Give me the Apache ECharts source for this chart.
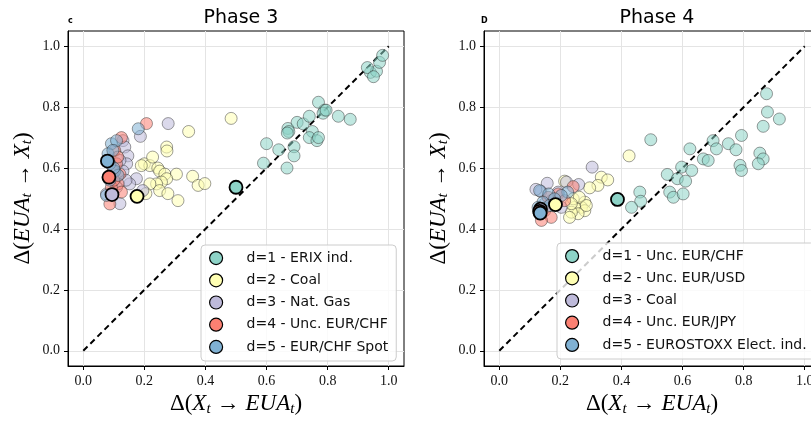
<!DOCTYPE html>
<html><head><meta charset="utf-8">
<script src="https://cdn.jsdelivr.net/npm/echarts@6/dist/echarts.min.js"></script>
<style>html,body{margin:0;padding:0;background:#fff}#c{width:811px;height:422px}</style>
</head><body><div id="c"></div>
<script>
// ---------- data ----------
const tickValues = [0, 0.2, 0.4, 0.6, 0.8, 1.0];
const colors = ['#8dd3c7', '#ffffb3', '#bebada', '#fb8072', '#80b1d3'];
const diagonal = [[0, 0], [1, 1]];

const p3Names = ['d=1 - ERIX ind.', 'd=2 - Coal', 'd=3 - Nat. Gas', 'd=4 - Unc. EUR/CHF', 'd=5 - EUR/CHF Spot'];
const p3_s1 = [[0.67,0.73],[0.673,0.72],[0.668,0.715],[0.70,0.75],[0.72,0.745],[0.74,0.77],[0.77,0.816],[0.79,0.79],[0.785,0.78],[0.795,0.79],[0.835,0.77],[0.874,0.76],[0.75,0.72],[0.74,0.70],[0.765,0.69],[0.77,0.70],[0.60,0.68],[0.64,0.66],[0.69,0.67],[0.69,0.64],[0.59,0.616],[0.667,0.60],[0.94,0.914],[0.96,0.918],[0.97,0.947],[0.98,0.97],[0.93,0.93],[0.95,0.90]];
const p3_s2 = [[0.484,0.763],[0.345,0.72],[0.273,0.669],[0.274,0.656],[0.20,0.614],[0.218,0.608],[0.227,0.636],[0.244,0.60],[0.25,0.59],[0.267,0.58],[0.305,0.58],[0.273,0.565],[0.256,0.554],[0.24,0.548],[0.218,0.548],[0.25,0.526],[0.277,0.516],[0.31,0.493],[0.358,0.573],[0.376,0.543],[0.398,0.549],[0.205,0.516],[0.19,0.608]];
const p3_s3 = [[0.278,0.746],[0.187,0.704],[0.13,0.69],[0.136,0.669],[0.146,0.64],[0.142,0.614],[0.174,0.565],[0.195,0.526],[0.12,0.483],[0.076,0.515],[0.13,0.59],[0.12,0.625],[0.109,0.537],[0.152,0.548],[0.14,0.56]];
const p3_s4 = [[0.207,0.746],[0.125,0.70],[0.087,0.482],[0.103,0.658],[0.109,0.614],[0.12,0.58],[0.114,0.548],[0.125,0.521],[0.092,0.537],[0.098,0.59],[0.113,0.636],[0.1,0.56]];
const p3_s5 = [[0.18,0.729],[0.092,0.68],[0.081,0.647],[0.109,0.69],[0.103,0.59],[0.087,0.56],[0.076,0.51],[0.114,0.576],[0.087,0.614],[0.097,0.658],[0.1,0.6]];
const p3_hl = [[0.50,0.537],[0.176,0.507],[0.094,0.513],[0.084,0.57],[0.079,0.623]];

const p4Names = ['d=1 - Unc. EUR/CHF', 'd=2 - Unc. EUR/USD', 'd=3 - Coal', 'd=4 - Unc. EUR/JPY', 'd=5 - EUROSTOXX Elect. ind.'];
const p4_s1 = [[0.875,0.844],[0.878,0.784],[0.917,0.761],[0.864,0.737],[0.793,0.707],[0.75,0.68],[0.775,0.66],[0.70,0.69],[0.711,0.663],[0.624,0.663],[0.668,0.63],[0.684,0.625],[0.853,0.649],[0.864,0.63],[0.848,0.614],[0.788,0.609],[0.793,0.592],[0.597,0.603],[0.63,0.592],[0.55,0.579],[0.583,0.565],[0.61,0.557],[0.558,0.521],[0.57,0.504],[0.602,0.515],[0.496,0.693],[0.46,0.521],[0.463,0.491],[0.433,0.471]];
const p4_s2 = [[0.425,0.64],[0.334,0.57],[0.355,0.561],[0.323,0.543],[0.296,0.535],[0.214,0.557],[0.28,0.488],[0.269,0.471],[0.247,0.471],[0.28,0.46],[0.258,0.45],[0.236,0.455],[0.242,0.499],[0.262,0.504],[0.23,0.438],[0.285,0.477],[0.236,0.483]];
const p4_s3 = [[0.304,0.603],[0.157,0.55],[0.26,0.546],[0.22,0.554],[0.136,0.523],[0.193,0.521],[0.17,0.493],[0.149,0.483],[0.203,0.471],[0.12,0.53]];
const p4_s4 = [[0.242,0.539],[0.193,0.515],[0.16,0.504],[0.149,0.46],[0.17,0.438],[0.214,0.493],[0.138,0.428]];
const p4_s5 = [[0.132,0.526],[0.162,0.515],[0.224,0.521],[0.203,0.51],[0.181,0.499],[0.143,0.488],[0.165,0.477],[0.127,0.471]];
const p4_hl = [[0.387,0.497],[0.184,0.48],[0.135,0.465],[0.132,0.458],[0.134,0.452]];

// ---------- build ----------
const serif = 'Liberation Serif';
const sans = 'DejaVu Sans';
function axisName(a, b) {
  return '{d|Δ(}{i|' + a + '}{s|t}{a|→}{i|' + b + '}{s|t}{d|)}';
}
const nameRich = {
  d: {fontFamily: serif, fontSize: 23, color: '#000'},
  a: {fontFamily: serif, fontSize: 23, color: '#000', padding: [0, 6, 0, 6]},
  i: {fontFamily: serif, fontSize: 23, fontStyle: 'italic', color: '#000'},
  s: {fontFamily: serif, fontSize: 15, fontStyle: 'italic', color: '#000', padding: [10, 0, 0, 0]}
};
function xAxis(gi) {
  return {
    gridIndex: gi, type: 'value', min: -0.05, max: 1.05,
    axisLine: {onZero: false, lineStyle: {color: '#000', width: 1}},
    axisTick: {customValues: tickValues, length: 4, lineStyle: {color: '#000'}},
    axisLabel: {customValues: tickValues, formatter: v => v.toFixed(1), fontFamily: serif, fontSize: 14, color: '#111', margin: 8},
    splitLine: {lineStyle: {color: '#e4e4e4'}},
    name: axisName('X', 'EUA'), nameLocation: 'middle', nameGap: 25,
    nameTextStyle: {rich: nameRich}
  };
}
function yAxis(gi) {
  return {
    gridIndex: gi, type: 'value', min: -0.05, max: 1.05,
    axisLine: {onZero: false, lineStyle: {color: '#000', width: 1}},
    axisTick: {customValues: tickValues, length: 4, lineStyle: {color: '#000'}},
    axisLabel: {customValues: tickValues, formatter: v => v.toFixed(1), fontFamily: serif, fontSize: 14, color: '#111', margin: 8},
    splitLine: {lineStyle: {color: '#e4e4e4'}},
    name: axisName('EUA', 'X'), nameLocation: 'middle', nameGap: 33, nameRotate: 90,
    nameTextStyle: {rich: nameRich}
  };
}
const series = [];
function addPanel(gi, names, sets, hl) {
  series.push({
    type: 'line', xAxisIndex: gi, yAxisIndex: gi, data: diagonal, symbol: 'none', z: 1,
    lineStyle: {color: '#000', width: 2, type: [6, 4]}, silent: true
  });
  sets.forEach((d, k) => {
    series.push({
      type: 'scatter', name: names[k], xAxisIndex: gi, yAxisIndex: gi, data: d,
      symbolSize: 12, z: 2,
      itemStyle: {color: colors[k], opacity: 0.55, borderColor: '#222', borderWidth: 0.8}
    });
  });
  hl.forEach((p, k) => {
    series.push({
      type: 'scatter', name: 'hl' + gi + k, xAxisIndex: gi, yAxisIndex: gi, data: [p],
      symbolSize: 13, z: 3,
      itemStyle: {color: colors[k], opacity: 1, borderColor: '#000', borderWidth: 1.8}
    });
  });
}
addPanel(0, p3Names, [p3_s1, p3_s2, p3_s3, p3_s4, p3_s5], p3_hl);
addPanel(1, p4Names, [p4_s1, p4_s2, p4_s3, p4_s4, p4_s5], p4_hl);

function legend(names, left, top) {
  return {
    orient: 'vertical', left: left, top: top,
    data: names.map((n, k) => ({name: n, icon: 'circle', itemStyle: {color: colors[k], opacity: 1, borderColor: '#000', borderWidth: 1.2}})),
    itemWidth: 13, itemHeight: 13, itemGap: 8,
    padding: [6, 8, 7, 8],
    backgroundColor: 'rgba(255,255,255,0.8)', borderColor: '#cccccc', borderWidth: 1, borderRadius: 4,
    textStyle: {fontFamily: sans, fontSize: 14, color: '#111', padding: [0, 0, 0, 19]},
    selectedMode: false
  };
}

const option = {
  animation: false,
  backgroundColor: '#fff',
  title: [
    {text: 'Phase 3', left: 236, top: 4, textAlign: 'center', textStyle: {fontFamily: sans, fontSize: 19, fontWeight: 'normal', color: '#000'}},
    {text: 'Phase 4', left: 652, top: 4, textAlign: 'center', textStyle: {fontFamily: sans, fontSize: 19, fontWeight: 'normal', color: '#000'}},
    {text: 'c', left: 63, top: 12, textStyle: {fontFamily: sans, fontSize: 8, fontWeight: 'bold', color: '#000'}},
    {text: 'D', left: 476, top: 12, textStyle: {fontFamily: sans, fontSize: 8, fontWeight: 'bold', color: '#000'}}
  ],
  grid: [
    {left: 68, top: 31, width: 336, height: 335, outerBoundsMode: 'none', containLabel: false, show: true, borderColor: '#000', borderWidth: 1, backgroundColor: 'transparent'},
    {left: 484, top: 31, width: 336, height: 335, outerBoundsMode: 'none', containLabel: false, show: true, borderColor: '#000', borderWidth: 1, backgroundColor: 'transparent'}
  ],
  xAxis: [xAxis(0), xAxis(1)],
  yAxis: [yAxis(0), yAxis(1)],
  legend: [legend(p3Names, 201, 245), legend(p4Names, 557, 243)],
  series: series
};
const chart = echarts.init(document.getElementById('c'), null, {renderer: 'canvas'});
chart.setOption(option);
</script></body></html>
